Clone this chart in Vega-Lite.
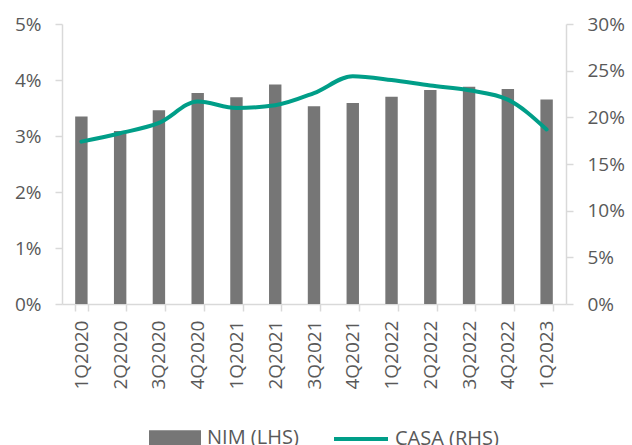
{
  "$schema": "https://vega.github.io/schema/vega-lite/v6.json",
  "width": 504,
  "height": 280,
  "autosize": {"type": "none"},
  "padding": {"left": 62, "top": 24, "right": 66, "bottom": 141},
  "background": "white",
  "config": {
    "view": {"stroke": null},
    "font": "Open Sans",
    "axis": {
      "grid": false,
      "domainColor": "#d9d9d9",
      "domainWidth": 1.5,
      "tickColor": "#d9d9d9",
      "tickWidth": 1.5,
      "tickSize": 7,
      "labelColor": "#595959",
      "labelFont": "Open Sans",
      "labelFontSize": 19,
      "title": null
    },
    "legend": {
      "labelColor": "#595959",
      "labelFont": "Open Sans",
      "labelFontSize": 20,
      "padding": 0,
      "title": null
    }
  },
  "data": {
    "values": [
      {"q": "1Q2020", "nim": 0.0335, "casa": 0.174},
      {"q": "2Q2020", "nim": 0.0309, "casa": 0.183},
      {"q": "3Q2020", "nim": 0.0346, "casa": 0.194},
      {"q": "4Q2020", "nim": 0.0377, "casa": 0.217},
      {"q": "1Q2021", "nim": 0.0369, "casa": 0.210},
      {"q": "2Q2021", "nim": 0.0392, "casa": 0.213},
      {"q": "3Q2021", "nim": 0.0353, "casa": 0.226},
      {"q": "4Q2021", "nim": 0.0359, "casa": 0.244},
      {"q": "1Q2022", "nim": 0.0370, "casa": 0.240},
      {"q": "2Q2022", "nim": 0.0382, "casa": 0.234},
      {"q": "3Q2022", "nim": 0.0388, "casa": 0.229},
      {"q": "4Q2022", "nim": 0.0384, "casa": 0.219},
      {"q": "1Q2023", "nim": 0.0365, "casa": 0.187}
    ]
  },
  "encoding": {
    "x": {
      "field": "q",
      "type": "ordinal",
      "sort": null,
      "scale": {"paddingInner": 0.68, "paddingOuter": 0.34},
      "axis": {
        "labelAngle": -90,
        "labelPadding": 9,
        "tickBand": "extent",
        "labelFontSize": 19
      }
    }
  },
  "layer": [
    {
      "mark": {"type": "bar"},
      "encoding": {
        "y": {
          "field": "nim",
          "type": "quantitative",
          "scale": {"domain": [0, 0.05], "nice": false},
          "axis": {
            "orient": "left",
            "values": [0, 0.01, 0.02, 0.03, 0.04, 0.05],
            "format": ".0%",
            "labelPadding": 14
          }
        },
        "fill": {
          "datum": "NIM (LHS)",
          "scale": {"range": ["#767676"]},
          "legend": {
            "orient": "none",
            "legendX": 87,
            "legendY": 388,
            "symbolType": "M-1,-0.3H1V0.3H-1Z",
            "symbolSize": 2704,
            "symbolStrokeWidth": 0,
            "symbolOpacity": 1,
            "labelOffset": 6
          }
        }
      }
    },
    {
      "mark": {"type": "line", "interpolate": "monotone", "strokeWidth": 4, "strokeCap": "round"},
      "encoding": {
        "y": {
          "field": "casa",
          "type": "quantitative",
          "scale": {"domain": [0, 0.3], "nice": false},
          "axis": {
            "orient": "right",
            "values": [0, 0.05, 0.1, 0.15, 0.2, 0.25, 0.3],
            "format": ".0%",
            "labelPadding": 14
          }
        },
        "stroke": {
          "datum": "CASA (RHS)",
          "scale": {"range": ["#009E88"]},
          "legend": {
            "orient": "none",
            "legendX": 270,
            "legendY": 386,
            "symbolType": "stroke",
            "symbolSize": 2916,
            "symbolStrokeWidth": 4,
            "labelOffset": 5
          }
        }
      }
    }
  ],
  "resolve": {"scale": {"y": "independent"}}
}
